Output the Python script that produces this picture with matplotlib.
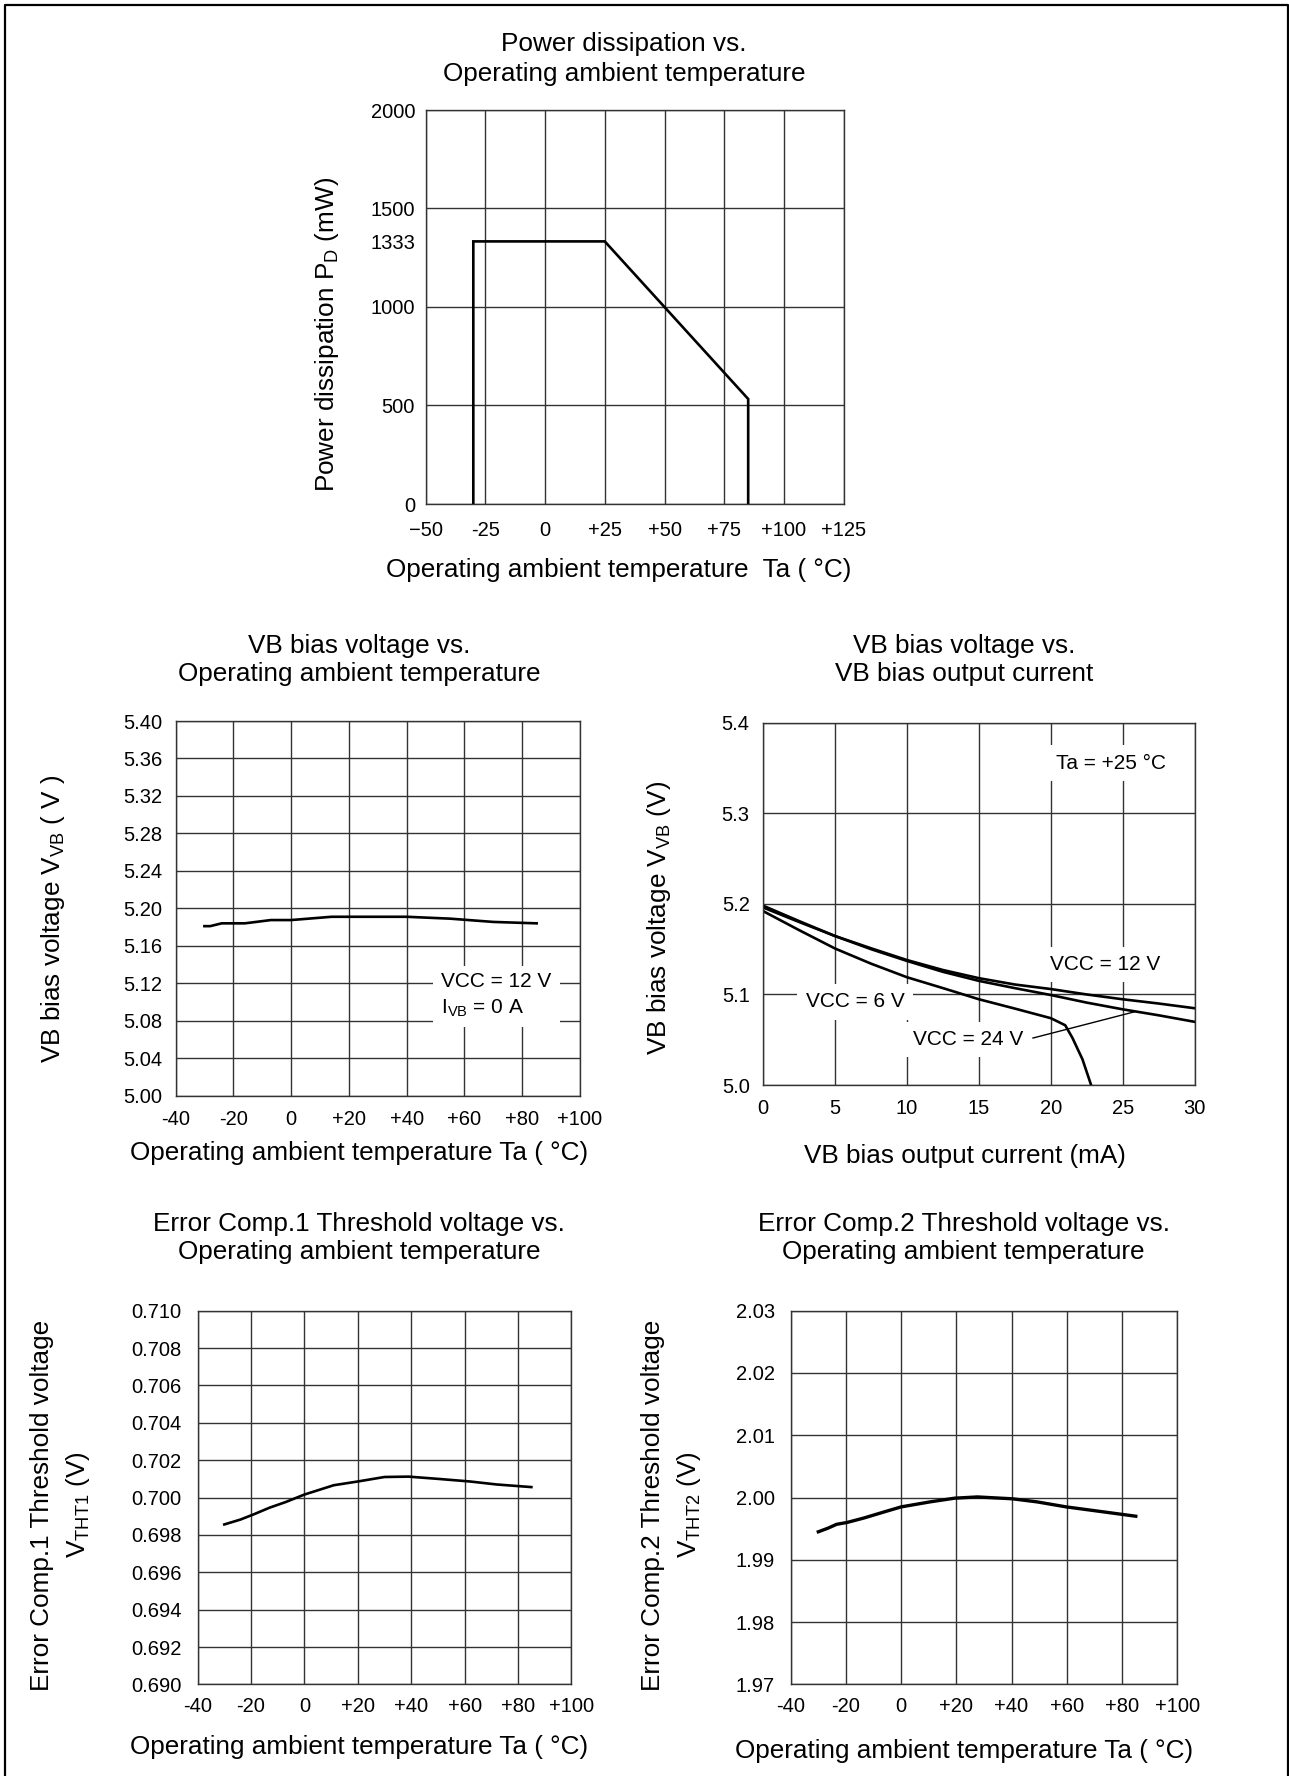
import matplotlib
matplotlib.use("Agg")
import matplotlib.pyplot as plt
from matplotlib.lines import Line2D

plt.rcParams['font.family'] = ['Liberation Sans', 'DejaVu Sans']
plt.rcParams['mathtext.fontset'] = 'custom'
plt.rcParams['mathtext.rm'] = 'Liberation Sans'

W, H = 1289, 1776

# ---- data ----
pd_temp = [-30, -30, 25, 85, 85]
pd_power = [0, 1333, 1333, 533, 0]
pd_xticks = [-50, -25, 0, 25, 50, 75, 100, 125]
pd_xlabels = ['\u221250', '-25', '0', '+25', '+50', '+75', '+100', '+125']
pd_yticks = [0, 500, 1000, 1500, 2000]

vb_temp = [-30, -28, -24, -16, -7, 0, 14, 40, 55, 70, 85]
vb_volt = [5.181, 5.181, 5.184, 5.184, 5.1875, 5.1875, 5.191, 5.191, 5.189, 5.1855, 5.184]
vb_yticks = [5.00, 5.04, 5.08, 5.12, 5.16, 5.20, 5.24, 5.28, 5.32, 5.36, 5.40]

temp_ticks = [-40, -20, 0, 20, 40, 60, 80, 100]
temp_labels = ['-40', '-20', '0', '+20', '+40', '+60', '+80', '+100']

cur = [0, 2.5, 5, 7.5, 10, 12.5, 15, 17.5, 20, 22.5, 25, 27.5, 30]
v_vcc12 = [5.198, 5.181, 5.1645, 5.151, 5.138, 5.127, 5.118, 5.111, 5.106, 5.100, 5.0947, 5.090, 5.0848]
v_vcc24 = [5.196, 5.180, 5.1645, 5.150, 5.137, 5.125, 5.115, 5.107, 5.0994, 5.091, 5.0836, 5.077, 5.0698]
cur6 = [0, 2.5, 5, 7.5, 10, 12.5, 15, 17.5, 20, 21.0, 21.5, 22.2, 22.8]
v_vcc6 = [5.192, 5.171, 5.1507, 5.134, 5.119, 5.107, 5.0947, 5.0844, 5.0738, 5.066, 5.0521, 5.0284, 5.0]

th1_temp = [-30, -24, -19, -13, -7, 0, 11, 20, 30, 39, 50, 62, 72, 85]
th1_volt = [0.69856, 0.69882, 0.6991, 0.69946, 0.69976, 0.70016, 0.70066, 0.70086,
            0.7011, 0.70112, 0.7010, 0.70086, 0.7007, 0.70056]
th1_yticks = [0.690, 0.692, 0.694, 0.696, 0.698, 0.700, 0.702, 0.704, 0.706, 0.708, 0.710]

th2_temp = [-30, -26.4, -23.4, -19.6, -13.6, -6.1, 0, 10.4, 19.4, 27.6, 40.3, 49.3, 59.8, 73.3, 85]
th2_volt = [1.9945, 1.9951, 1.9957, 1.9960, 1.9967, 1.9977, 1.9985, 1.9993, 1.9999,
            2.0001, 1.9998, 1.9993, 1.9985, 1.9977, 1.9970]
th2_yticks = [1.97, 1.98, 1.99, 2.00, 2.01, 2.02, 2.03]

GRID = '#333333'
TICK_FS = 14.5
LABEL_FS = 18.8


def make_axes(fig, L, R, T, B):
    ax = fig.add_axes([L / W, 1 - B / H, (R - L) / W, (B - T) / H])
    for s in ax.spines.values():
        s.set_color(GRID)
        s.set_linewidth(1.0)
    ax.grid(True, color=GRID, linewidth=1.0)
    ax.set_axisbelow(True)
    return ax


def ftext(fig, x, y, s, **kw):
    kw.setdefault('fontsize', LABEL_FS)
    kw.setdefault('ha', 'center')
    kw.setdefault('va', 'center')
    fig.text(x / W, 1 - y / H, s, **kw)


fig = plt.figure(figsize=(W / 100, H / 100), dpi=100)

# outer frame (open at the bottom)
fig.add_artist(Line2D([5 / W, 5 / W, 1287.5 / W, 1287.5 / W],
                      [0, 1 - 5 / H, 1 - 5 / H, 0], color='black', lw=1.6))

# ---- 1. power dissipation ----
ax1 = make_axes(fig, 425.5, 843.8, 110, 504)
ax1.plot(pd_temp, pd_power, color='black', lw=1.9, solid_joinstyle='miter')
ax1.set_xlim(-50, 125)
ax1.set_ylim(0, 2000)
ax1.set_xticks(pd_xticks)
ax1.set_xticklabels(pd_xlabels)
ax1.set_yticks(pd_yticks)
ax1.set_yticks([1333], minor=True)
ax1.set_yticklabels(['1333'], minor=True)
ax1.tick_params(axis='both', which='both', length=0, labelsize=TICK_FS)
ax1.tick_params(axis='x', pad=12)
ax1.tick_params(axis='y', which='both', pad=7.5)
ftext(fig, 624, 59, 'Power dissipation vs.\nOperating ambient temperature', linespacing=1.3)
ftext(fig, 619, 570, 'Operating ambient temperature  Ta ( \u00b0C)')
ftext(fig, 327, 334, r'Power dissipation P$_{\mathregular{D}}$ (mW)', rotation=90)

# ---- 2. VB bias voltage vs temperature ----
ax2 = make_axes(fig, 175.5, 580, 721, 1095.7)
ax2.plot(vb_temp, vb_volt, color='black', lw=1.9)
ax2.set_xlim(-40, 100)
ax2.set_ylim(5.00, 5.40)
ax2.set_xticks(temp_ticks)
ax2.set_xticklabels(temp_labels)
ax2.set_yticks(vb_yticks)
ax2.set_yticklabels(['%.2f' % v for v in vb_yticks])
ax2.tick_params(length=0, labelsize=TICK_FS)
ax2.tick_params(axis='x', pad=10)
ax2.tick_params(axis='y', pad=9.7)
ax2.text(52, 5.107, 'VCC = 12 V\nI$_{\\mathregular{VB}}$ = 0 A', fontsize=15, ha='left', va='center',
         linespacing=1.35, bbox=dict(facecolor='white', edgecolor='none', pad=6))
ftext(fig, 359, 660, 'VB bias voltage vs.\nOperating ambient temperature', linespacing=1.2)
ftext(fig, 359, 1153, 'Operating ambient temperature Ta ( \u00b0C)')
ftext(fig, 53, 919, r'VB bias voltage V$_{\mathregular{VB}}$ ( V )', rotation=90)

# ---- 3. VB bias voltage vs output current ----
ax3 = make_axes(fig, 763.3, 1194.6, 722.9, 1085)
ax3.plot(cur, v_vcc12, color='black', lw=1.9)
ax3.plot(cur, v_vcc24, color='black', lw=1.9)
ax3.plot(cur6, v_vcc6, color='black', lw=1.9)
ax3.set_xlim(0, 30)
ax3.set_ylim(5.0, 5.4)
ax3.set_xticks([0, 5, 10, 15, 20, 25, 30])
ax3.set_yticks([5.0, 5.1, 5.2, 5.3, 5.4])
ax3.set_yticklabels(['5.0', '5.1', '5.2', '5.3', '5.4'])
ax3.tick_params(length=0, labelsize=TICK_FS)
ax3.tick_params(axis='x', pad=10)
ax3.tick_params(axis='y', pad=9.8)
box = dict(facecolor='white', edgecolor='none', pad=6)
ax3.text(20.36, 5.3557, 'Ta = +25 \u00b0C', fontsize=15, ha='left', va='center', bbox=box)
ax3.text(19.93, 5.133, 'VCC = 12 V', fontsize=15, ha='left', va='center', bbox=box)
ax3.text(2.94, 5.0917, 'VCC = 6 V', fontsize=15, ha='left', va='center', bbox=box)
ax3.text(10.41, 5.0502, 'VCC = 24 V', fontsize=15, ha='left', va='center', bbox=box)
ax3.plot([18.76, 25.83], [5.0519, 5.0809], color='black', lw=1.0)
ftext(fig, 963.7, 660, 'VB bias voltage vs.\nVB bias output current', linespacing=1.2)
ftext(fig, 965, 1156, 'VB bias output current (mA)')
ftext(fig, 658.6, 918, r'VB bias voltage V$_{\mathregular{VB}}$ (V)', rotation=90)

# ---- 4. Error comp.1 threshold ----
ax4 = make_axes(fig, 197.6, 571.4, 1310.7, 1684.4)
ax4.plot(th1_temp, th1_volt, color='black', lw=1.9)
ax4.set_xlim(-40, 100)
ax4.set_ylim(0.690, 0.710)
ax4.set_xticks(temp_ticks)
ax4.set_xticklabels(temp_labels)
ax4.set_yticks(th1_yticks)
ax4.set_yticklabels(['%.3f' % v for v in th1_yticks])
ax4.tick_params(length=0, labelsize=TICK_FS)
ax4.tick_params(axis='x', pad=9)
ax4.tick_params(axis='y', pad=11.5)
ftext(fig, 359, 1237.6, 'Error Comp.1 Threshold voltage vs.\nOperating ambient temperature', linespacing=1.2)
ftext(fig, 359, 1746.8, 'Operating ambient temperature Ta ( \u00b0C)')
ftext(fig, 61, 1505, 'Error Comp.1 Threshold voltage\nV$_{\\mathregular{THT1}}$ (V)', rotation=90,
      linespacing=1.45, multialignment='center')

# ---- 5. Error comp.2 threshold ----
ax5 = make_axes(fig, 790.7, 1177.2, 1310.7, 1684.4)
ax5.plot(th2_temp, th2_volt, color='black', lw=2.4)
ax5.set_xlim(-40, 100)
ax5.set_ylim(1.97, 2.03)
ax5.set_xticks(temp_ticks)
ax5.set_xticklabels(temp_labels)
ax5.set_yticks(th2_yticks)
ax5.set_yticklabels(['%.2f' % v for v in th2_yticks])
ax5.tick_params(length=0, labelsize=TICK_FS)
ax5.tick_params(axis='x', pad=9)
ax5.tick_params(axis='y', pad=11.5)
ftext(fig, 963.7, 1237.6, 'Error Comp.2 Threshold voltage vs.\nOperating ambient temperature', linespacing=1.2)
ftext(fig, 963.7, 1750.5, 'Operating ambient temperature Ta ( \u00b0C)')
ftext(fig, 672, 1505, 'Error Comp.2 Threshold voltage\nV$_{\\mathregular{THT2}}$ (V)', rotation=90,
      linespacing=1.45, multialignment='center')

fig.savefig('out.png', dpi=100)
